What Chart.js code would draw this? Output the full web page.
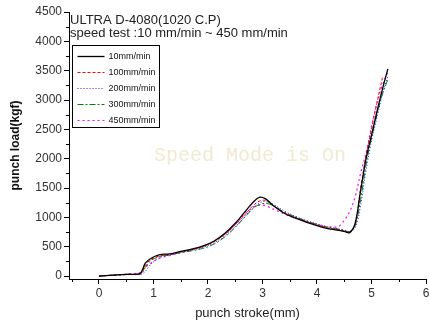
<!DOCTYPE html>
<html>
<head>
<meta charset="utf-8">
<script src="https://cdn.jsdelivr.net/npm/chart.js@4.4.0/dist/chart.umd.min.js"></script>
<style>
  html, body { margin: 0; padding: 0; background: #fff; }
  #wrap { width: 429px; height: 321px; }
</style>
</head>
<body>
<div id="wrap"><canvas id="chart" width="429" height="321"></canvas></div>
<script>
// punch stroke (mm), shared by all runs
const stroke = [0, 0.5, 0.75, 0.8, 0.85, 0.95, 1.1, 1.3, 1.5, 1.7, 1.9, 2.1, 2.3, 2.5, 2.7, 2.85, 2.95, 3.05, 3.2, 3.4, 3.6, 3.8, 4.0, 4.2, 4.4, 4.5, 4.6, 4.7, 4.8, 4.9, 5.0, 5.1, 5.2, 5.3];

// punch load (kgf) for each speed
const load10 = [0, 30, 40, 110, 220, 300, 360, 380, 420, 460, 510, 590, 720, 900, 1120, 1280, 1345, 1320, 1200, 1070, 990, 920, 860, 810, 780, 760, 740, 900, 1450, 2000, 2400, 2800, 3180, 3530];
const load100 = [0, 30, 35, 80, 180, 280, 340, 370, 410, 450, 500, 580, 700, 870, 1070, 1220, 1280, 1290, 1200, 1080, 1000, 930, 870, 820, 790, 770, 750, 880, 1500, 2050, 2500, 2950, 3380, null];
const load200 = [0, 25, 30, 40, 80, 200, 310, 360, 400, 440, 490, 560, 680, 840, 1040, 1190, 1250, 1270, 1220, 1110, 1020, 950, 890, 840, 800, 780, 760, 820, 1200, 1800, 2300, 2700, 3100, 3400];
const load300 = [0, 25, 30, 60, 150, 260, 330, 360, 400, 430, 470, 540, 660, 830, 1030, 1170, 1220, 1240, 1200, 1090, 1010, 940, 880, 830, 800, 780, 760, 860, 1300, 1900, 2350, 2750, 3100, 3350];
const load450 = [0, 30, 60, 100, 150, 220, 300, 350, 400, 450, 500, 590, 710, 880, 1080, 1180, 1210, 1200, 1140, 1060, 990, 930, 880, 840, 850, 950, 1100, 1350, 1750, 2100, 2550, 2950, 3250, 3480];

const speedLabels = ['10mm/min', '100mm/min', '200mm/min', '300mm/min', '450mm/min'];

const xTicks = [0, 1, 2, 3, 4, 5, 6];
const xMinor = [-0.5, 0.5, 1.5, 2.5, 3.5, 4.5, 5.5];
const yTicks = [0, 500, 1000, 1500, 2000, 2500, 3000, 3500, 4000, 4500];
const yMinor = [250, 750, 1250, 1750, 2250, 2750, 3250, 3750, 4250];

const headerLines = ['ULTRA D-4080(1020 C.P)', 'speed test :10 mm/min ~ 450 mm/min'];

const toPoints = ys => stroke.map((x, i) => ({ x: x, y: ys[i] }));

const styles = [
  { color: '#000000', dash: [], width: 1.3 },
  { color: '#ff0000', dash: [3, 2], width: 1 },
  { color: '#2020ff', dash: [1, 2], width: 1 },
  { color: '#008000', dash: [6, 2, 2, 2], width: 1 },
  { color: '#ff00ff', dash: [2, 3], width: 1.2 }
];

const series = [load10, load100, load200, load300, load450];

const datasets = series.map((ys, i) => ({
  label: speedLabels[i],
  data: toPoints(ys),
  borderColor: styles[i].color,
  backgroundColor: styles[i].color,
  borderDash: styles[i].dash,
  borderWidth: styles[i].width,
  pointRadius: 0,
  tension: 0.35,
  fill: false
}));

const FONT = '"Liberation Sans", Arial, sans-serif';

const extras = {
  id: 'extras',
  beforeDatasetsDraw(chart) {
    const { ctx, chartArea } = chart;
    ctx.save();
    // watermark
    ctx.fillStyle = '#f0ead2';
    ctx.font = '20px "Liberation Mono", "Courier New", monospace';
    ctx.textAlign = 'center';
    ctx.textBaseline = 'middle';
    ctx.fillText('Speed Mode is On', 250, 156);
    // header text
    ctx.fillStyle = '#222';
    ctx.font = '13px ' + FONT;
    ctx.textAlign = 'left';
    ctx.fillText(headerLines[0], chartArea.left + 1, 20);
    ctx.fillText(headerLines[1], chartArea.left + 1, 33);
    ctx.restore();
  },
  afterDraw(chart) {
    const { ctx, scales: { x, y } } = chart;
    ctx.save();
    // minor ticks
    ctx.strokeStyle = '#000';
    ctx.lineWidth = 1;
    ctx.beginPath();
    xMinor.forEach(v => {
      const px = Math.round(x.getPixelForValue(v)) + 0.5;
      ctx.moveTo(px, x.top);
      ctx.lineTo(px, x.top + 3);
    });
    yMinor.forEach(v => {
      const py = Math.round(y.getPixelForValue(v)) + 0.5;
      ctx.moveTo(y.right, py);
      ctx.lineTo(y.right - 3, py);
    });
    ctx.stroke();

    // legend box
    const bx = 72.5, by = 45.5, bw = 87, bh = 82;
    ctx.strokeStyle = '#000';
    ctx.strokeRect(bx, by, bw, bh);
    ctx.font = '9px ' + FONT;
    ctx.textAlign = 'left';
    ctx.textBaseline = 'middle';
    chart.data.datasets.forEach((ds, i) => {
      const cy = Math.round(by + 10.5 + i * 16.1) + 0.5;
      ctx.save();
      ctx.strokeStyle = ds.borderColor;
      ctx.lineWidth = ds.borderWidth;
      ctx.setLineDash(ds.borderDash);
      ctx.beginPath();
      ctx.moveTo(bx + 5, cy);
      ctx.lineTo(bx + 32, cy);
      ctx.stroke();
      ctx.restore();
      ctx.fillStyle = '#111';
      ctx.fillText(ds.label, bx + 36, cy);
    });
    ctx.restore();
  }
};

new Chart(document.getElementById('chart'), {
  type: 'line',
  data: { datasets: datasets },
  plugins: [extras],
  options: {
    responsive: false,
    animation: false,
    events: [],
    layout: { padding: { top: 12, right: 3, left: 0, bottom: 0 } },
    plugins: {
      legend: { display: false },
      tooltip: { enabled: false }
    },
    scales: {
      x: {
        type: 'linear',
        min: -0.55,
        max: 6,
        afterBuildTicks: s => { s.ticks = xTicks.map(v => ({ value: v })); },
        afterFit: s => { s.paddingLeft = 0; s.paddingRight = 0; s.height = 42; },
        grid: { display: true, drawOnChartArea: false, drawTicks: true, tickLength: 5, color: '#000' },
        border: { display: true, color: '#000', width: 1 },
        ticks: { color: '#333', padding: 2, maxRotation: 0, font: { family: FONT, size: 12 }, callback: v => String(v) },
        title: { display: true, text: 'punch stroke(mm)', color: '#222', padding: { top: 0, bottom: 0 }, font: { family: FONT, size: 13 } }
      },
      y: {
        type: 'linear',
        min: -50,
        max: 4500,
        afterBuildTicks: s => { s.ticks = yTicks.map(v => ({ value: v })); },
        afterFit: s => { s.paddingTop = 0; s.paddingBottom = 0; s.width = 69; },
        grid: { display: true, drawOnChartArea: false, drawTicks: true, tickLength: 5, color: '#000' },
        border: { display: true, color: '#000', width: 1 },
        ticks: { color: '#333', padding: 2, font: { family: FONT, size: 12 }, callback: v => String(v) },
        title: { display: true, text: 'punch load(kgf)', color: '#111', padding: { top: 8, bottom: 0 }, font: { family: FONT, size: 12, weight: 'bold' } }
      }
    }
  }
});
</script>
</body>
</html>
